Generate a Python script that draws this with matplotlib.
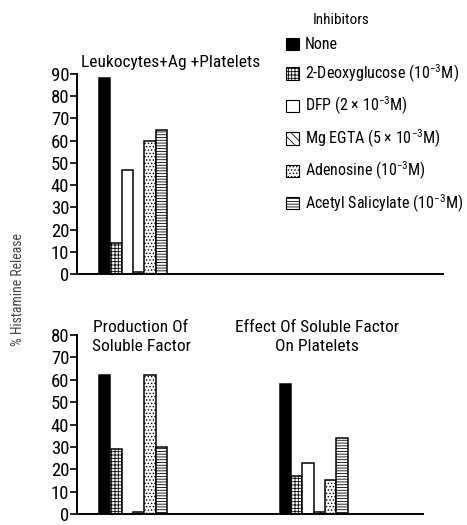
import matplotlib
matplotlib.use("Agg")
import matplotlib.pyplot as plt
from matplotlib.patches import Patch
import numpy as np

FONT = 'Roboto Condensed'
plt.rcParams['font.family'] = [FONT, 'DejaVu Sans']
plt.rcParams['mathtext.fontset'] = 'custom'
plt.rcParams['mathtext.rm'] = FONT
plt.rcParams['mathtext.default'] = 'regular'
plt.rcParams['hatch.linewidth'] = 0.6

inhibitors = ["None", "2-Deoxyglucose (10$^{-3}$M)", "DFP (2 × 10$^{-3}$M)",
              "Mg EGTA (5 × 10$^{-3}$M)", "Adenosine (10$^{-3}$M)",
              "Acetyl Salicylate (10$^{-3}$M)"]
top_values = [88, 14, 47, 1, 60, 65]
production_values = [62, 29, 0, 1, 62, 30]
effect_values = [58, 17, 23, 1, 15, 34]

top_title = "Leukocytes+Ag +Platelets"
bottom_titles = ["Production Of\nSoluble Factor", "Effect Of Soluble Factor\nOn Platelets"]
top_ticks = list(range(0, 91, 10))
bottom_ticks = list(range(0, 81, 10))
ylabel = "% Histamine Release"

colors = ["black", "white", "white", "white", "white", "white"]
hatches = [None, "+++++", None, "\\\\\\\\", ".....", "------"]

W, H = 467, 525
fig = plt.figure(figsize=(W / 100, H / 100), dpi=100)

def px_axes(left, right, top, bottom):
    return fig.add_axes([left / W, 1 - bottom / H, (right - left) / W, (bottom - top) / H])

bw = 11.3  # px per bar
x0 = 99

def style(ax, ticks):
    for s in ["top", "right"]:
        ax.spines[s].set_visible(False)
    ax.spines["left"].set_linewidth(1.4)
    ax.spines["bottom"].set_linewidth(1.4)
    ax.spines["left"].set_bounds(0, ticks[-1])
    ax.set_yticks(ticks)
    ax.set_xticks([])
    ax.tick_params(axis="y", direction="out", length=5, width=1.2, labelsize=13.5, pad=0.5)
    ax.set_ylim(0, ticks[-1])

def draw_group(ax, start, vals):
    xs = np.arange(len(vals)) + start
    for x, v, c, h in zip(xs, vals, colors, hatches):
        ax.bar(x, v, width=1.0, align="edge", color=c, edgecolor="black",
               hatch=h, linewidth=1.1)

ax1 = px_axes(77, 443, 74, 274)
ax1.set_xlim((77 - x0) / bw, (443 - x0) / bw)
style(ax1, top_ticks)
draw_group(ax1, 0, top_values)

ax2 = px_axes(77, 423, 335, 514)
ax2.set_xlim((77 - x0) / bw, (423 - x0) / bw)
style(ax2, bottom_ticks)
draw_group(ax2, 0, production_values)
draw_group(ax2, 16, effect_values)
for ax in (ax1, ax2):
    ax.patch.set_alpha(0)

fig.text(171 / W, 1 - 62 / H, top_title, ha="center", va="center", fontsize=12.5)
fig.text(141 / W, 1 - 337 / H, bottom_titles[0], ha="center", va="center",
         fontsize=12.5, linespacing=1.35)
fig.text(317 / W, 1 - 337 / H, bottom_titles[1], ha="center", va="center",
         fontsize=12.5, linespacing=1.35)
fig.text(18 / W, 1 - 290 / H, ylabel, rotation=90, ha="center", va="center",
         fontsize=10, color="#444444")

handles = [Patch(facecolor=c, edgecolor="black", hatch=h, linewidth=0.8)
           for c, h in zip(colors, hatches)]
leg = fig.legend(handles, inhibitors, loc="upper left",
                 bbox_to_anchor=(280 / W, 1 - 7 / H), frameon=False,
                 title="Inhibitors", fontsize=11.5, title_fontsize=11,
                 handlelength=0.8, handleheight=0.8, handletextpad=0.35,
                 labelspacing=0.63, borderaxespad=0)
leg._legend_box.align = "left"
leg.get_title().set_position((26, 0))

fig.savefig("out.png", dpi=100)
